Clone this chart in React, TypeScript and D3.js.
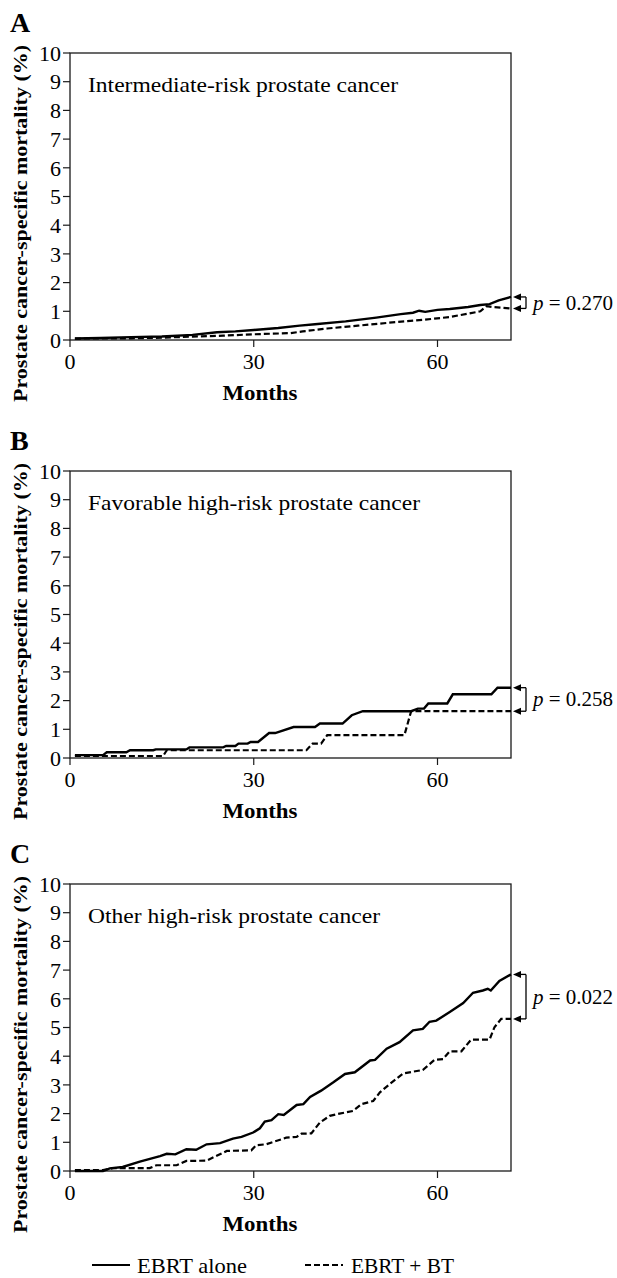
import React, { useEffect, useRef } from "react";
import * as d3 from "d3";

// [month, mortality %]
const ebrtAloneA: [number, number][] = [
  [0.8, 0.05], [5, 0.07], [10, 0.1], [15, 0.12], [20, 0.18], [24, 0.27], [27, 0.3],
  [30, 0.35], [34, 0.42], [37.5, 0.5], [40, 0.55], [45, 0.65], [50, 0.78], [54, 0.9],
  [56, 0.95], [57, 1.02], [58, 0.98], [60, 1.05], [62, 1.08], [65, 1.15], [67, 1.22],
  [68.5, 1.25], [70, 1.38], [72, 1.5],
];
const ebrtBtA: [number, number][] = [
  [0.8, 0.05], [10, 0.06], [15, 0.08], [20, 0.12], [25, 0.15], [30, 0.2], [36, 0.24],
  [38, 0.3], [42, 0.4], [47, 0.5], [52, 0.6], [57.6, 0.7], [62, 0.8], [67, 1.0],
  [68, 1.18], [69, 1.15], [72, 1.1],
];
const ebrtAloneB: [number, number][] = [
  [0.8, 0.1], [5.4, 0.1], [6, 0.2], [9.2, 0.2], [9.8, 0.27], [13.6, 0.27], [14, 0.3],
  [19, 0.3], [19.5, 0.37], [25, 0.37], [25.5, 0.42], [27, 0.42], [27.5, 0.5], [29, 0.5],
  [29.5, 0.56], [30.7, 0.56], [32.5, 0.87], [33.5, 0.87], [36.5, 1.08], [40, 1.08],
  [40.8, 1.2], [44.5, 1.2], [46, 1.49], [47.8, 1.63], [55.7, 1.63], [56.8, 1.72],
  [57.8, 1.72], [58.5, 1.9], [61.6, 1.9], [62.5, 2.22], [68.8, 2.22], [69.8, 2.45], [72, 2.45],
];
const ebrtBtB: [number, number][] = [
  [0.8, 0.07], [15.2, 0.07], [15.8, 0.27], [38.6, 0.27], [39.6, 0.5], [41, 0.5],
  [42, 0.8], [54.6, 0.8], [55.7, 1.63], [72, 1.63],
];
const ebrtAloneC: [number, number][] = [
  [0.8, 0], [5.4, 0], [6.5, 0.09], [8.6, 0.14], [11.4, 0.33], [14.7, 0.52], [15.8, 0.6],
  [17.2, 0.58], [19, 0.76], [20.6, 0.74], [22.3, 0.93], [24.5, 0.97], [26.6, 1.13],
  [28, 1.19], [29.9, 1.34], [31, 1.49], [31.8, 1.72], [32.9, 1.77], [34, 1.98], [34.9, 1.95],
  [37, 2.3], [38.1, 2.33], [39.2, 2.58], [41, 2.8], [43, 3.09], [44.9, 3.38], [46.5, 3.44],
  [49, 3.85], [49.8, 3.87], [51.7, 4.26], [53.8, 4.49], [56, 4.9], [57.6, 4.95], [58.7, 5.2],
  [59.8, 5.24], [62, 5.54], [64.2, 5.85], [65.8, 6.21], [67.4, 6.29], [68.2, 6.35],
  [68.7, 6.29], [70.1, 6.62], [72, 6.85],
];
const ebrtBtC: [number, number][] = [
  [0.8, 0.03], [5.4, 0.03], [7, 0.1], [13, 0.1], [14.1, 0.2], [17.4, 0.2], [19, 0.35],
  [22.3, 0.36], [25.6, 0.7], [29.6, 0.72], [30.4, 0.9], [32, 0.93], [35.3, 1.16], [37, 1.19],
  [37.8, 1.3], [39.4, 1.31], [40.8, 1.69], [42.4, 1.92], [44, 2.0], [46.2, 2.09], [47.6, 2.33],
  [49.5, 2.44], [50.6, 2.74], [52.2, 3.03], [54.4, 3.4], [57.6, 3.52], [59.5, 3.87],
  [60.9, 3.9], [62, 4.17], [63.9, 4.17], [65.5, 4.58], [68.5, 4.58], [69.3, 5.01],
  [70.4, 5.3], [72, 5.3],
];

const panelLetters = ["A", "B", "C"];
const panelTitles = [
  "Intermediate-risk prostate cancer",
  "Favorable high-risk prostate cancer",
  "Other high-risk prostate cancer",
];
const pValues = ["0.270", "0.258", "0.022"];
const yTicks = [0, 1, 2, 3, 4, 5, 6, 7, 8, 9, 10];
const xTicks = [0, 30, 60];
const seriesNames = ["EBRT alone", "EBRT + BT"];

const FONT = "'Liberation Serif', 'Times New Roman', serif";

export default function App() {
  const ref = useRef<SVGSVGElement>(null);

  useEffect(() => {
    const svg = d3.select(ref.current);
    svg.selectAll("*").remove();

    const tops = [53, 471, 884];
    const titleWidths = [310, 332, 292]; // original typeface is wider than Times
    const plotH = 287;
    const solids = [ebrtAloneA, ebrtAloneB, ebrtAloneC];
    const dashes = [ebrtBtA, ebrtBtB, ebrtBtC];

    const x = d3.scaleLinear().domain([0, 72]).range([70, 511]);
    const y = d3.scaleLinear().domain([0, 10]).range([plotH, 0]);
    const line = d3
      .line<[number, number]>()
      .x(d => x(d[0]))
      .y(d => y(d[1]));

    tops.forEach((top, i) => {
      const g = svg.append("g").attr("transform", `translate(0,${top})`);

      // panel letter
      g.append("text")
        .attr("x", 10)
        .attr("y", -21)
        .attr("font-size", 28)
        .attr("font-weight", "bold")
        .text(panelLetters[i]);

      // frame
      g.append("rect")
        .attr("x", x(0))
        .attr("y", 0)
        .attr("width", x(72) - x(0))
        .attr("height", plotH)
        .attr("fill", "none")
        .attr("stroke", "#1a1a1a")
        .attr("stroke-width", 1.3);

      // Y ticks
      yTicks.forEach(t => {
        g.append("line")
          .attr("x1", x(0) - 7)
          .attr("x2", x(0))
          .attr("y1", y(t))
          .attr("y2", y(t))
          .attr("stroke", "#1a1a1a")
          .attr("stroke-width", 1.2);
        g.append("text")
          .attr("x", x(0) - 9)
          .attr("y", y(t))
          .attr("dy", "0.35em")
          .attr("text-anchor", "end")
          .attr("font-size", 22)
          .text(t);
      });

      // X ticks
      xTicks.forEach(t => {
        g.append("line")
          .attr("x1", x(t))
          .attr("x2", x(t))
          .attr("y1", plotH)
          .attr("y2", plotH + 7)
          .attr("stroke", "#1a1a1a")
          .attr("stroke-width", 1.2);
        g.append("text")
          .attr("x", x(t))
          .attr("y", plotH + 29)
          .attr("text-anchor", "middle")
          .attr("font-size", 22)
          .text(t);
      });

      g.append("text")
        .attr("x", 260)
        .attr("y", plotH + 60)
        .attr("text-anchor", "middle")
        .attr("font-size", 20)
        .attr("font-weight", "bold")
        .attr("textLength", 75)
        .attr("lengthAdjust", "spacingAndGlyphs")
        .text("Months");

      g.append("text")
        .attr("transform", `translate(27,${170.5}) rotate(-90)`)
        .attr("text-anchor", "middle")
        .attr("font-size", 19)
        .attr("font-weight", "bold")
        .attr("textLength", 357)
        .attr("lengthAdjust", "spacingAndGlyphs")
        .text("Prostate cancer-specific mortality (%)");

      g.append("text")
        .attr("x", 88)
        .attr("y", 39)
        .attr("font-size", 21)
        .attr("textLength", titleWidths[i])
        .attr("lengthAdjust", "spacingAndGlyphs")
        .text(panelTitles[i]);

      // curves
      g.append("path")
        .attr("d", line(dashes[i]))
        .attr("fill", "none")
        .attr("stroke", "#000")
        .attr("stroke-width", 2.2)
        .attr("stroke-dasharray", "6,3");
      g.append("path")
        .attr("d", line(solids[i]))
        .attr("fill", "none")
        .attr("stroke", "#000")
        .attr("stroke-width", 2.4);

      // p-value bracket
      const ys = y(solids[i][solids[i].length - 1][1]);
      const yd = y(dashes[i][dashes[i].length - 1][1]);
      const bx = 526;
      [ys, yd].forEach(yy => {
        g.append("path")
          .attr("d", `M513,${yy}L521,${yy - 3.5}L521,${yy + 3.5}Z`)
          .attr("fill", "#000");
        g.append("line")
          .attr("x1", 520)
          .attr("x2", bx)
          .attr("y1", yy)
          .attr("y2", yy)
          .attr("stroke", "#000")
          .attr("stroke-width", 1.3);
      });
      g.append("line")
        .attr("x1", bx)
        .attr("x2", bx)
        .attr("y1", ys)
        .attr("y2", yd)
        .attr("stroke", "#000")
        .attr("stroke-width", 1.3);
      const pt = g.append("text")
        .attr("x", 533)
        .attr("y", (ys + yd) / 2 + 7)
        .attr("font-size", 21);
      pt.append("tspan").attr("font-style", "italic").text("p");
      pt.append("tspan").text(` = ${pValues[i]}`);
    });

    // legend
    const ly = 1265;
    const legend = svg.append("g");
    [
      { x1: 92, dash: null, tx: 137, w: 110 },
      { x1: 305, dash: "6,3", tx: 351, w: 103 },
    ].forEach((d, i) => {
      legend.append("line")
        .attr("x1", d.x1)
        .attr("x2", d.x1 + 38)
        .attr("y1", ly)
        .attr("y2", ly)
        .attr("stroke", "#000")
        .attr("stroke-width", 2.2)
        .attr("stroke-dasharray", d.dash);
      legend.append("text")
        .attr("x", d.tx)
        .attr("y", ly + 8)
        .attr("font-size", 21)
        .attr("textLength", d.w)
        .attr("lengthAdjust", "spacingAndGlyphs")
        .text(seriesNames[i]);
    });
  }, []);

  return (
    <svg
      ref={ref}
      width={617}
      height={1278}
      style={{ position: "absolute", left: 0, top: 0, background: "#fff" }}
      fontFamily={FONT}
    />
  );
}
